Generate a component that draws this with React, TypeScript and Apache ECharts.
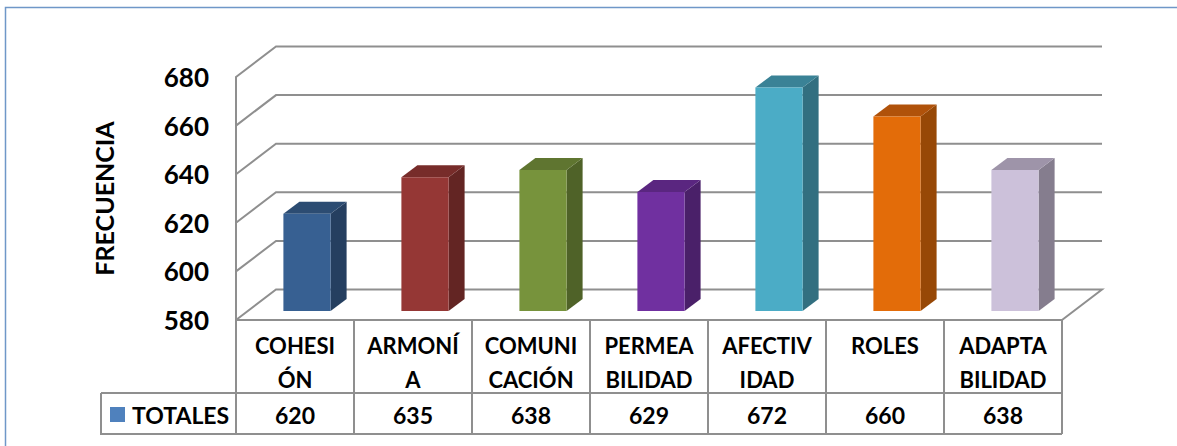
import React, { useEffect, useRef } from "react";
import * as echarts from "echarts";

const categories = ["COHESI\nÓN", "ARMONÍ\nA", "COMUNI\nCACIÓN", "PERMEA\nBILIDAD", "AFECTIV\nIDAD", "ROLES", "ADAPTA\nBILIDAD"];
const totals = [620, 635, 638, 629, 672, 660, 638];
const valueTicks = [580, 600, 620, 640, 660, 680];
const seriesName = "TOTALES";
const axisTitle = "FRECUENCIA";
const frontColors = ["#376092", "#953735", "#77933C", "#7030A0", "#4BACC6", "#E36C09", "#CCC1DA"];
const sideColors = ["#253F60", "#632523", "#4F6228", "#4A2069", "#326F80", "#974806", "#857D8E"];
const topColors = ["#2C4C72", "#772C2A", "#5F7530", "#5A2680", "#3A8296", "#B0520A", "#9E94A9"];

const FONT = "Lato, Carlito, sans-serif";
const GREY = "#8f8f8f";

export default function App() {
  const ref = useRef<HTMLDivElement>(null);
  useEffect(() => {
    const chart = echarts.init(ref.current!, null, { renderer: "svg" });
    const wallDx = 40, wallDy = 30.5;
    chart.setOption({
      animation: false,
      backgroundColor: "#ffffff",
      grid: { left: 236, top: 77, width: 826, height: 243 },
      legend: {
        left: 105, top: 398, itemWidth: 15, itemHeight: 15, itemGap: 0, icon: "rect",
        data: [{ name: seriesName, itemStyle: { color: "#4F81BD" } }],
        selectedMode: false,
        textStyle: { fontFamily: FONT, fontWeight: "bold", fontSize: 23, color: "#000", padding: [0, 0, 0, 2] },
      },
      xAxis: {
        type: "category",
        data: categories,
        axisLine: { show: false },
        axisTick: { show: false },
        axisLabel: {
          interval: 0, margin: 8, lineHeight: 34, color: "#000",
          fontFamily: FONT, fontWeight: "bold", fontSize: 22,
        },
      },
      yAxis: {
        type: "value", min: 580, max: 680, interval: 20,
        name: axisTitle, nameLocation: "middle", nameGap: 120, nameRotate: 90,
        nameTextStyle: { fontFamily: FONT, fontWeight: "bold", fontSize: 25, color: "#000" },
        axisLine: { show: true, lineStyle: { color: GREY, width: 2 } },
        axisTick: { show: false },
        splitLine: { show: false },
        axisLabel: { margin: 27, color: "#000", fontFamily: FONT, fontWeight: "bold", fontSize: 26, formatter: (v: number) => String(v) },
      },
      graphic: [
        {
          type: "polyline", silent: true, z: 0,
          shape: { points: [[5.5, 446], [5.5, 7.5], [1177, 7.5]] },
          style: { fill: "none", stroke: "#6F97C8", lineWidth: 1.5 },
        },
      ],
      series: [
        {
          name: "walls", type: "custom", silent: true, z: 1,
          data: valueTicks.map((t) => [0, t]),
          encode: { x: 0, y: 1 },
          renderItem: (_p: any, api: any) => {
            const [cx, y] = api.coord([0, api.value(1)]);
            const band = api.size([1, 0])[0];
            const l = cx - band / 2;
            const r = l + band * categories.length;
            const style = { fill: "none", stroke: GREY, lineWidth: 2 };
            const pts = [[l, y], [l + wallDx, y - wallDy], [r + wallDx, y - wallDy]];
            if (api.value(1) === valueTicks[0]) pts.push([r, y]);
            return { type: "polyline", shape: { points: pts }, style };
          },
        },
        {
          name: seriesName, type: "custom", silent: true, z: 2,
          data: totals.map((v, i) => [i, v]),
          encode: { x: 0, y: 1 },
          renderItem: (p: any, api: any) => {
            const i = p.dataIndex;
            const band = api.size([1, 0])[0];
            const [cx, top0] = api.coord([api.value(0), api.value(1)]);
            const base0 = api.coord([api.value(0), valueTicks[0]])[1];
            const shiftX = 12, shiftY = 9, w = band * 0.4, dx = 16, dy = 12;
            const l = cx + shiftX - w / 2, r = l + w, top = top0 - shiftY, base = base0 - shiftY;
            return {
              type: "group",
              children: [
                { type: "polygon", shape: { points: [[r, top], [r + dx, top - dy], [r + dx, base - dy], [r, base]] }, style: { fill: sideColors[i] } },
                { type: "polygon", shape: { points: [[l, top], [l + dx, top - dy], [r + dx, top - dy], [r, top]] }, style: { fill: topColors[i] } },
                { type: "rect", shape: { x: l, y: top, width: w, height: base - top }, style: { fill: frontColors[i] } },
              ],
            };
          },
        },
        {
          name: "table", type: "custom", silent: true, z: 3,
          data: totals.map((v, i) => [i, v]),
          encode: { x: 0 },
          renderItem: (p: any, api: any) => {
            const band = api.size([1, 0])[0];
            const cx = api.coord([api.value(0), valueTicks[0]])[0];
            const y0 = api.coord([api.value(0), valueTicks[0]])[1];
            const rowA = y0 + 73, rowB = y0 + 114;
            const l = cx - band / 2, r = cx + band / 2;
            const style = { fill: "none", stroke: GREY, lineWidth: 2 };
            const line = (pts: number[][]) => ({ type: "polyline", shape: { points: pts }, style });
            const children: any[] = [
              line([[l, y0], [r, y0]]),
              line([[l, rowA], [r, rowA]]),
              line([[l, rowB], [r, rowB]]),
              line([[r, y0], [r, rowB]]),
              {
                type: "text",
                style: {
                  text: String(api.value(1)), x: cx, y: (rowA + rowB) / 2 + 1,
                  align: "center", verticalAlign: "middle",
                  fontFamily: FONT, fontWeight: "bold", fontSize: 23, fill: "#000",
                },
              },
            ];
            if (p.dataIndex === 0) {
              children.push(line([[l, y0], [l, rowB]]));
              children.push(line([[l - 135, rowA], [l, rowA], [l, rowB], [l - 135, rowB], [l - 135, rowA]]));
            }
            return { type: "group", children };
          },
        },
      ],
    });
    return () => chart.dispose();
  }, []);
  return <div ref={ref} style={{ position: "absolute", left: 0, top: 0, width: 1177, height: 446 }} />;
}
